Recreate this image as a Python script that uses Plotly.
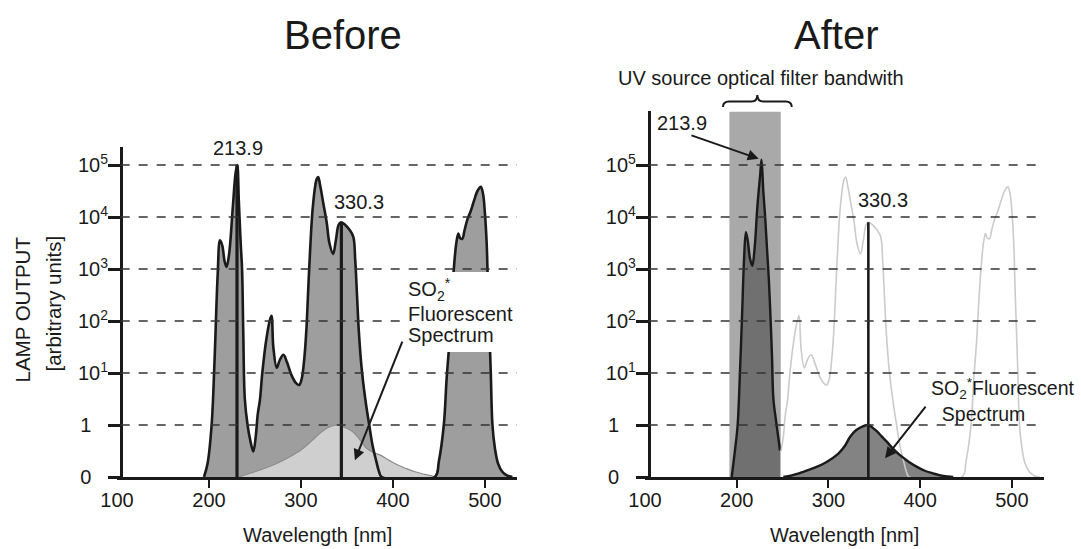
import plotly.graph_objects as go

# ---------------- data (levels: 0 -> "0", 1 -> "1", 2 -> 10^1 ... 6 -> 10^5) ----------------
lamp_nm = [194.6, 198.5, 202.9, 206, 209.5, 212, 214.5, 217, 219.2, 222, 226, 229, 230.8, 232.5,
           234.5, 236, 237.3, 239, 242, 245, 248.2, 251, 253, 255.4, 258, 262, 266, 268, 270,
           273.7, 277, 281, 285, 290, 295, 298.2, 301, 303.8, 306, 309, 313, 317, 318.8, 321,
           324, 328, 331, 335, 338, 341, 343.5, 348, 353, 357, 359, 361, 363, 366, 370, 374.3,
           378, 382, 385, 388, 445.6, 450, 455.4, 458.5, 461.5, 464, 466.5, 469, 471.2, 473,
           475.5, 478, 481, 484.4, 488, 492, 495.6, 498, 500, 502, 503.5, 505, 506.5, 508.3,
           511, 514.4, 519, 524, 530]
lamp_lv = [0, 0.26, 1.0, 2.2, 3.9, 4.55, 4.45, 4.15, 4.04, 4.3, 5.2, 5.85, 6.0, 5.3,
           4.5, 4.0, 2.8, 1.5, 1.0, 0.7, 0.49, 0.8, 1.2, 1.48, 2.0, 2.6, 3.0, 3.1, 2.5,
           2.1, 2.25, 2.35, 2.2, 1.95, 1.8, 1.77, 1.9, 2.3, 2.85, 4.0, 5.2, 5.72, 5.77, 5.6,
           5.3, 4.9, 4.5, 4.29, 4.55, 4.85, 4.9, 4.85, 4.75, 4.62, 4.2, 3.5, 2.8, 2.1, 1.5, 1.0,
           0.6, 0.3, 0.1, 0, 0, 0.3, 1.0, 1.9, 2.6, 3.4, 4.05, 4.5, 4.68, 4.6,
           4.58, 4.75, 4.95, 5.1, 5.3, 5.5, 5.58, 5.45, 5.1, 4.5, 3.6, 2.8, 2.0, 1.0,
           0.55, 0.26, 0.1, 0.03, 0]

fluor_before_nm = [232.4, 250, 273.7, 287, 300, 312, 322.6, 332, 339.6, 348, 356.5, 364, 371.5,
                   379, 386.5, 396, 405.4, 415, 424, 435, 446.7]
fluor_before_lv = [0.0, 0.1, 0.26, 0.38, 0.52, 0.7, 0.87, 0.97, 1.0, 0.95, 0.87, 0.72, 0.55,
                   0.47, 0.42, 0.32, 0.23, 0.16, 0.1, 0.05, 0.0]

filtered_nm = [194.5, 198, 201, 203.5, 206, 208, 210, 212, 214.5, 217, 219.5, 222.5, 225.5,
               227, 229, 231, 233, 235, 237, 238.5, 240, 243.5, 247.2]
filtered_lv = [0, 0.5, 1.0, 2.0, 3.2, 4.2, 4.71, 4.55, 4.2, 4.06, 4.4, 5.2, 5.8,
               6.1, 5.5, 5.0, 4.4, 3.8, 3.0, 2.3, 1.5, 1.0, 0.51]

fluor_after_nm = [250.8, 260, 272.6, 285, 298, 310.8, 318, 323.5, 330, 338, 343.6, 348, 352.7,
                  358, 363.6, 370, 378, 387, 396, 405, 414, 425, 436]
fluor_after_lv = [0, 0.03, 0.1, 0.18, 0.29, 0.45, 0.6, 0.77, 0.9, 0.98, 1.0, 0.95, 0.88,
                  0.78, 0.68, 0.55, 0.42, 0.3, 0.2, 0.12, 0.07, 0.02, 0]

lines_label = ["213.9", "330.3"]
lines_nm_before = [230.5, 344.0]
lines_nm_after = [None, 343.5]
lines_top = [6.0, 4.9]

filter_band_nm = [192, 248]

x_tickvals = [100, 200, 300, 400, 500]
y_tickvals = [0, 1, 2, 3, 4, 5, 6]
y_ticktext = ["0&nbsp;&nbsp;&nbsp;", "1&nbsp;&nbsp;&nbsp;", "10<sup>1</sup>", "10<sup>2</sup>",
              "10<sup>3</sup>", "10<sup>4</sup>", "10<sup>5</sup>"]

# ---------------- layout helpers ----------------
W, H = 1081, 549
FONT = "Liberation Sans, Arial, Helvetica, sans-serif"
INK = "#1a1a1a"
X_RANGE = [100, 535]
Y_AXIS_NM = 104
BASE_PX, PX_PER_LEVEL = 477, 52
LEFT_DOM, RIGHT_DOM = (117, 517), (645, 1044)
LEFT_TOP, RIGHT_TOP = 6.35, 7.03


def pxx(px):
    return px / W


def pxy(py):
    return 1 - py / H


def nm_to_px(nm, dom):
    return dom[0] + (nm - X_RANGE[0]) / (X_RANGE[1] - X_RANGE[0]) * (dom[1] - dom[0])


fig = go.Figure()

# ---- Before panel ----
fig.add_trace(go.Scatter(x=lamp_nm, y=lamp_lv, mode="lines", fill="tozeroy",
                         fillcolor="#9e9e9e", line=dict(width=0), xaxis="x", yaxis="y",
                         hoverinfo="skip"))
fig.add_trace(go.Scatter(x=fluor_before_nm, y=fluor_before_lv, mode="lines", fill="tozeroy",
                         fillcolor="#cfcfcf", line=dict(color="#8c8c8c", width=1.2),
                         line_shape="spline", xaxis="x", yaxis="y"))
fig.add_trace(go.Scatter(x=lamp_nm, y=lamp_lv, mode="lines", line=dict(color=INK, width=2.6),
                         line_shape="spline", xaxis="x", yaxis="y"))
for nm, top in zip(lines_nm_before, lines_top):
    fig.add_trace(go.Scatter(x=[nm, nm], y=[0, top], mode="lines",
                             line=dict(color=INK, width=3.2), xaxis="x", yaxis="y"))

# ---- After panel ----
fig.add_trace(go.Scatter(x=filtered_nm, y=filtered_lv, mode="lines", fill="tozeroy",
                         fillcolor="#707070", line=dict(color=INK, width=2.4),
                         line_shape="spline", xaxis="x2", yaxis="y2"))
fig.add_trace(go.Scatter(x=fluor_after_nm, y=fluor_after_lv, mode="lines", fill="tozeroy",
                         fillcolor="#838383", line=dict(width=0), line_shape="spline",
                         xaxis="x2", yaxis="y2"))
ghost_nm = [n for n in lamp_nm if n >= filtered_nm[-1]]
ghost_lv = [v for n, v in zip(lamp_nm, lamp_lv) if n >= filtered_nm[-1]]
fig.add_trace(go.Scatter(x=ghost_nm, y=ghost_lv, mode="lines",
                         line=dict(color="#cbcbcb", width=1.6), line_shape="spline",
                         xaxis="x2", yaxis="y2"))
fig.add_trace(go.Scatter(x=fluor_after_nm, y=fluor_after_lv, mode="lines",
                         line=dict(color=INK, width=2.4), line_shape="spline",
                         xaxis="x2", yaxis="y2"))
fig.add_trace(go.Scatter(x=[lines_nm_after[1]] * 2, y=[0, lines_top[1]], mode="lines",
                         line=dict(color=INK, width=2.6), xaxis="x2", yaxis="y2"))

# ---------------- axes ----------------
def xaxis(dom, anchor):
    return dict(domain=[pxx(dom[0]), pxx(dom[1])], range=X_RANGE, anchor=anchor,
                automargin=False,
                showgrid=False, zeroline=False, showline=True, linecolor=INK, linewidth=2.5,
                tickmode="array", tickvals=x_tickvals, ticktext=[str(v) for v in x_tickvals],
                ticks="", ticklabelstandoff=3,
                tickfont=dict(family=FONT, size=20, color=INK),
                minor=dict(tickmode="array", tickvals=x_tickvals[1:], ticks="outside",
                           ticklen=8, tickwidth=2, tickcolor=INK))


def yaxis(dom, top, pos):
    return dict(domain=[pxy(BASE_PX), pxy(BASE_PX - top * PX_PER_LEVEL)], range=[0, top],
                anchor="free", position=pos, automargin=False,
                showgrid=False, zeroline=False,
                showline=True, linecolor=INK, linewidth=2.5,
                tickmode="array", tickvals=y_tickvals, ticktext=y_ticktext,
                ticks="outside", ticklen=12, tickwidth=2.5, tickcolor=INK,
                ticklabelstandoff=-4,
                tickfont=dict(family=FONT, size=20, color=INK))


fig.update_layout(
    width=W, height=H, margin=dict(l=0, r=0, t=0, b=0, autoexpand=False),
    paper_bgcolor="white", plot_bgcolor="white", showlegend=False,
    font=dict(family=FONT, color=INK, size=20),
    xaxis=xaxis(LEFT_DOM, "y"),
    yaxis=yaxis(LEFT_DOM, LEFT_TOP, pxx(nm_to_px(Y_AXIS_NM, LEFT_DOM))),
    xaxis2=xaxis(RIGHT_DOM, "y2"),
    yaxis2=yaxis(RIGHT_DOM, RIGHT_TOP, pxx(nm_to_px(Y_AXIS_NM, RIGHT_DOM))),
)

# ---------------- shapes ----------------
shapes = []
# filter band (After)
shapes.append(dict(type="rect", xref="x2", yref="y2", x0=filter_band_nm[0], x1=filter_band_nm[1],
                   y0=0, y1=RIGHT_TOP, fillcolor="#a9a9a9", line=dict(width=0), layer="below"))
# dashed grid lines on top of fills
for xr, yr in (("x", "y"), ("x2", "y2")):
    for lv in y_tickvals[1:]:
        shapes.append(dict(type="line", xref=xr, yref=yr, x0=Y_AXIS_NM, x1=X_RANGE[1],
                           y0=lv, y1=lv, line=dict(color="#333333", width=1.3, dash="dash"),
                           layer="above"))
# white label background in Before panel
shapes.append(dict(type="rect", xref="paper", yref="paper", x0=pxx(403), x1=pxx(521),
                   y0=pxy(352), y1=pxy(272), fillcolor="white", line=dict(width=0),
                   layer="above"))
# curly brace above the filter band
bx0, bx1 = nm_to_px(185, RIGHT_DOM), nm_to_px(260, RIGHT_DOM)
bxm = (bx0 + bx1) / 2
yb, yh, yt, r = 107, 101.5, 95, 6


def P(x, y):
    return f"{pxx(x):.5f},{pxy(y):.5f}"


brace = (f"M{P(bx0, yb)} Q{P(bx0, yh)} {P(bx0 + r, yh)} L{P(bxm - r, yh)} "
         f"Q{P(bxm, yh)} {P(bxm, yt)} Q{P(bxm, yh)} {P(bxm + r, yh)} "
         f"L{P(bx1 - r, yh)} Q{P(bx1, yh)} {P(bx1, yb)}")
shapes.append(dict(type="path", xref="paper", yref="paper", path=brace,
                   line=dict(color=INK, width=2)))
fig.update_layout(shapes=shapes)

# ---------------- annotations ----------------
def text(px, py, s, size=20, xanchor="center", angle=0, align="center"):
    fig.add_annotation(x=pxx(px), y=pxy(py), xref="paper", yref="paper", text=s,
                       showarrow=False, xanchor=xanchor, yanchor="middle", textangle=angle,
                       align=align, font=dict(family=FONT, size=size, color=INK))


text(342.5, 35, "Before", size=40)
text(836, 35, "After", size=40)
text(21.5, 310, "LAMP OUTPUT", size=20.5, angle=-90)
text(52.5, 304, "[arbitrary units]", size=20.5, angle=-90)
text(317, 535, "Wavelength [nm]")
text(844.5, 535, "Wavelength [nm]")

# Before labels
text(238.3, 148.3, lines_label[0])
text(359, 201.7, lines_label[1])
text(406, 289, "SO<sub>2</sub><sup>*</sup>", xanchor="left")
text(406, 313.5, "Fluorescent", xanchor="left")
text(406, 335, "Spectrum", xanchor="left")
fig.add_annotation(x=358.7, y=0.32, ax=410.9, ay=2.63, xref="x", yref="y", axref="x", ayref="y",
                   text="", showarrow=True, arrowhead=2, arrowsize=1.1, arrowwidth=2,
                   arrowcolor=INK)

# After labels
text(761, 78, "UV source optical filter bandwith")
text(682, 123.3, lines_label[0])
text(882.6, 200, lines_label[1])
text(929, 400, "SO<sub>2</sub><sup>*</sup>Fluorescent<br>&nbsp;&nbsp;Spectrum", size=19.5,
     xanchor="left", align="left")
fig.add_annotation(x=224, y=6.12, ax=149, ay=6.58, xref="x2", yref="y2", axref="x2", ayref="y2",
                   text="", showarrow=True, arrowhead=2, arrowsize=1.1, arrowwidth=2,
                   arrowcolor=INK)
fig.add_annotation(x=361.7, y=0.36, ax=407.2, ay=1.38, xref="x2", yref="y2", axref="x2",
                   ayref="y2", text="", showarrow=True, arrowhead=2, arrowsize=1.1,
                   arrowwidth=2, arrowcolor=INK)

fig.write_html("out.html", config={"displayModeBar": False},
               post_script="document.body.style.margin='0';")
